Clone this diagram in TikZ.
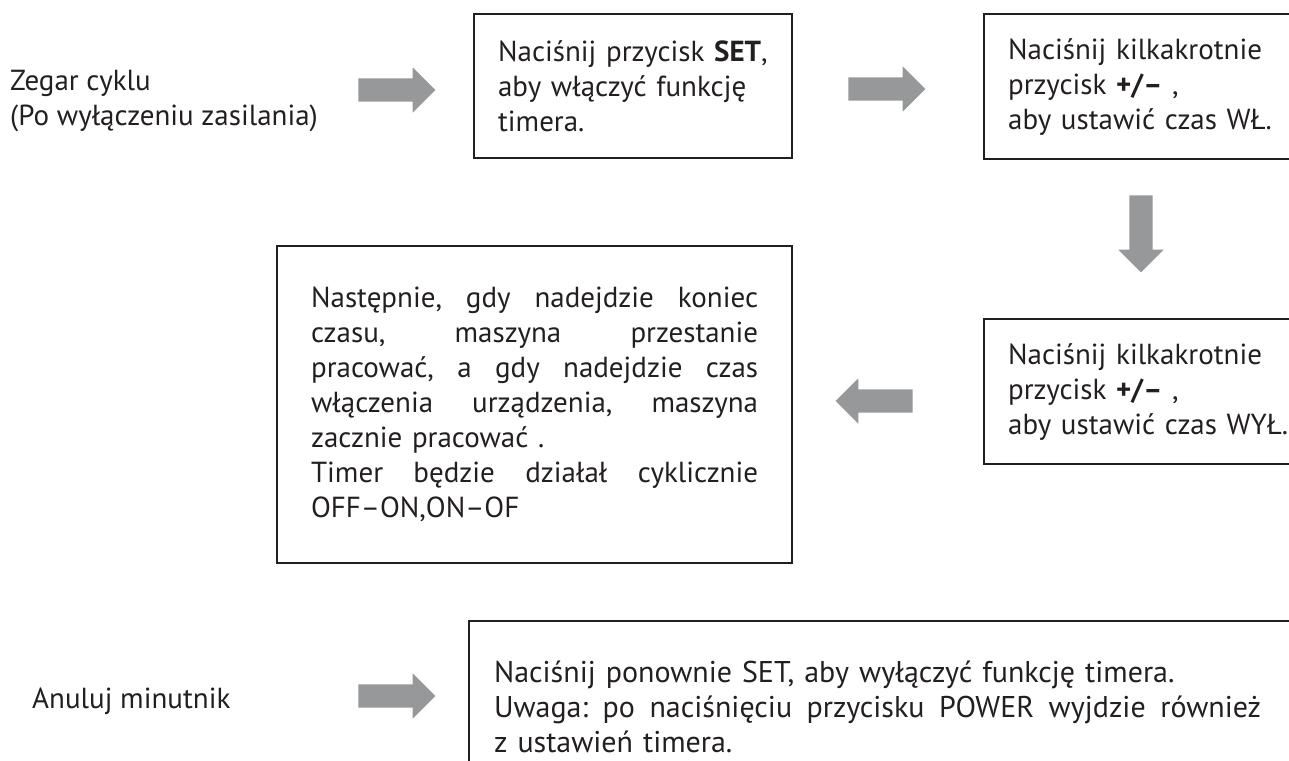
\documentclass[tikz,border=0pt]{standalone}
\usepackage{fontspec}
\setmainfont{PT Sans}
\usetikzlibrary{shapes.arrows}
\definecolor{pfeilgrau}{RGB}{151,152,154}
\definecolor{rahmen}{RGB}{35,31,32}
\frenchspacing
\newcommand{\zeile}[2][447pt]{\makebox[#1][s]{\spaceskip=0pt\xspaceskip=0pt\relax #2}}
\tikzset{
  schrift/.style={font=\fontsize{29}{35}\selectfont, text=rahmen},
  kasten/.style={draw=rahmen, line width=2.2pt, rectangle, anchor=north west, align=left, inner ysep=0pt, schrift},
  etikett/.style={anchor=west, align=left, inner sep=0pt, schrift},
  pfeil/.style={single arrow, fill=pfeilgrau, draw=none, inner xsep=0pt, inner ysep=11.5pt, minimum height=77pt, single arrow head extend=11pt, single arrow tip angle=90}
}
\begin{document}
\begin{tikzpicture}[x=1pt, y=-1pt]
    \useasboundingbox (0,0) rectangle (1289,760);
    \clip (0,0) rectangle (1289,760);
    % Beschriftungen links
    \node[etikett] (zegar) at (10,101) {Zegar cyklu\\(Po wyłączeniu zasilania)};
    \node[etikett] (anuluj) at (32,701) {Anuluj minutnik};
    % Kaesten
    \node[kasten, minimum width=318pt, minimum height=144pt, inner xsep=24pt, text width=270pt] (setbox) at (473,13)
        {Naciśnij przycisk \textbf{SET},\\aby włączyć funkcję\\timera.};
    \node[kasten, minimum width=340pt, minimum height=145pt, inner xsep=24pt, text width=292pt] (wlbox) at (983,13)
        {Naciśnij kilkakrotnie\\przycisk \textbf{+/–} ,\\aby ustawić czas WŁ.};
    \node[kasten, minimum width=340pt, minimum height=145pt, inner xsep=24pt, text width=292pt] (wylbox) at (983,318)
        {Naciśnij kilkakrotnie\\przycisk \textbf{+/–} ,\\aby ustawić czas WYŁ.};
    \node[kasten, minimum width=515pt, minimum height=317pt, inner xsep=34pt, text width=447pt] (cyklbox) at (276,245)
        {\zeile{Następnie, gdy nadejdzie koniec}\\
         \zeile{czasu, maszyna przestanie}\\
         \zeile{pracować, a gdy nadejdzie czas}\\
         \zeile{włączenia urządzenia, maszyna}\\
         zacznie pracować .\\
         \zeile{Timer będzie działał cyklicznie}\\
         OFF–ON,ON–OF};
    \node[kasten, minimum width=850pt, minimum height=172pt, inner xsep=25pt, text width=800pt,
          font=\fontsize{30}{35}\selectfont] (anulbox) at (468,620)
        {Naciśnij ponownie SET, aby wyłączyć funkcję timera.\\
         \zeile[767pt]{Uwaga: po naciśnięciu przycisku POWER wyjdzie również}\\
         z ustawień timera.};
    % Pfeile
    \node[pfeil] (p1) at (391,90) {};
    \node[pfeil] (p2) at (881,89) {};
    \node[pfeil, rotate=-90] (p3) at (1141,228) {};
    \node[pfeil, rotate=180] (p4) at (880,401) {};
    \node[pfeil] (p5) at (391,696) {};
\end{tikzpicture}
\end{document}
